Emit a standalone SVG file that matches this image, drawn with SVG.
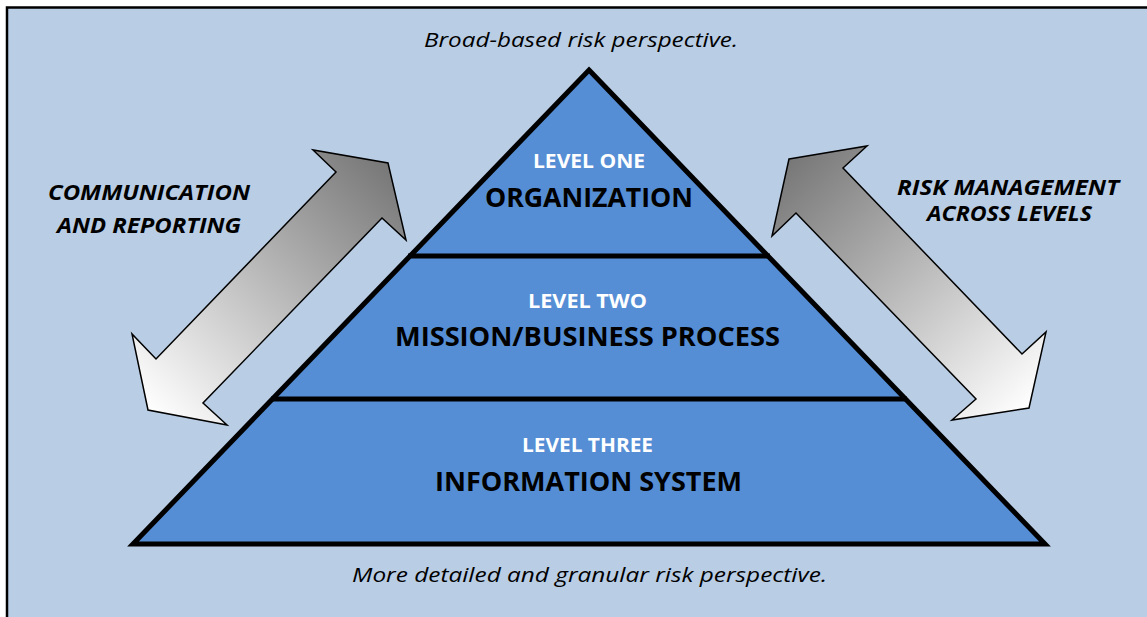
<svg xmlns="http://www.w3.org/2000/svg" width="1147" height="617" viewBox="0 0 1147 617">
  <defs>
    <linearGradient id="gradL" gradientUnits="userSpaceOnUse" x1="388" y1="163" x2="148" y2="410">
      <stop offset="0" stop-color="#777777"/>
      <stop offset="1" stop-color="#FFFFFF"/>
    </linearGradient>
    <linearGradient id="gradR" gradientUnits="userSpaceOnUse" x1="789" y1="159" x2="1029" y2="408">
      <stop offset="0" stop-color="#777777"/>
      <stop offset="1" stop-color="#FFFFFF"/>
    </linearGradient>
  </defs>
  <style>
    .frame { fill: #B9CDE5; stroke: #000; stroke-width: 2.5; }
    .pyr { fill: #558ED5; stroke: #000; stroke-width: 5; stroke-linejoin: miter; stroke-miterlimit: 10; }
    .div { stroke: #000; stroke-width: 5; }
    .arrow { stroke: #000; stroke-width: 1.5; stroke-linejoin: miter; }
    text { font-family: "Open Sans", "Noto Sans", sans-serif; }
    .persp { font-style: italic; font-size: 20.5px; fill: #000; }
    .lvl { font-weight: bold; font-size: 20px; fill: #FFF; }
    .name { font-weight: bold; font-size: 27.5px; fill: #000; }
    .side { font-weight: bold; font-style: italic; font-size: 21px; fill: #000; }
  </style>
  <rect class="frame" x="7" y="7.5" width="1150" height="620"/>

  <g id="pyramid">
    <polygon class="pyr" points="589,70 1045,544 133,544"/>
  </g>
  <g id="level-one">
    <text class="lvl" x="533" y="168" textLength="112" lengthAdjust="spacingAndGlyphs">LEVEL ONE</text>
    <text class="name" x="485" y="207" textLength="208" lengthAdjust="spacingAndGlyphs">ORGANIZATION</text>
  </g>
  <g id="level-two">
    <line class="div" x1="408" y1="256" x2="770" y2="256"/>
    <text class="lvl" x="528" y="308" textLength="119" lengthAdjust="spacingAndGlyphs">LEVEL TWO</text>
    <text class="name" x="395" y="346" textLength="385" lengthAdjust="spacingAndGlyphs">MISSION/BUSINESS PROCESS</text>
  </g>
  <g id="level-three">
    <line class="div" x1="271" y1="399" x2="907" y2="399"/>
    <text class="lvl" x="522" y="452" textLength="131" lengthAdjust="spacingAndGlyphs">LEVEL THREE</text>
    <text class="name" x="435" y="491" textLength="307" lengthAdjust="spacingAndGlyphs">INFORMATION SYSTEM</text>
  </g>

  <g id="connectors">
    <polygon class="arrow" fill="url(#gradL)" points="388,163 406,240 382,218 203,403 227,425 148,410 132,334 156,359 336,172 313,150"/>
    <polygon class="arrow" fill="url(#gradR)" points="789,159 867,146 843,168 1022,354 1046,332 1029,408 952,420 976,399 796,213 772,236"/>
  </g>

  <g id="label-communication">
    <text class="side" x="48" y="200" textLength="202" lengthAdjust="spacingAndGlyphs">COMMUNICATION</text>
    <text class="side" x="57" y="233" textLength="184" lengthAdjust="spacingAndGlyphs">AND REPORTING</text>
  </g>
  <g id="label-risk-management">
    <text class="side" x="897" y="195" textLength="222" lengthAdjust="spacingAndGlyphs">RISK MANAGEMENT</text>
    <text class="side" x="927" y="221" textLength="165" lengthAdjust="spacingAndGlyphs">ACROSS LEVELS</text>
  </g>
  <g id="label-broad">
    <text class="persp" x="424" y="47" textLength="314" lengthAdjust="spacingAndGlyphs">Broad-based risk perspective.</text>
  </g>
  <g id="label-detailed">
    <text class="persp" x="352" y="582" textLength="475" lengthAdjust="spacingAndGlyphs">More detailed and granular risk perspective.</text>
  </g>
</svg>
